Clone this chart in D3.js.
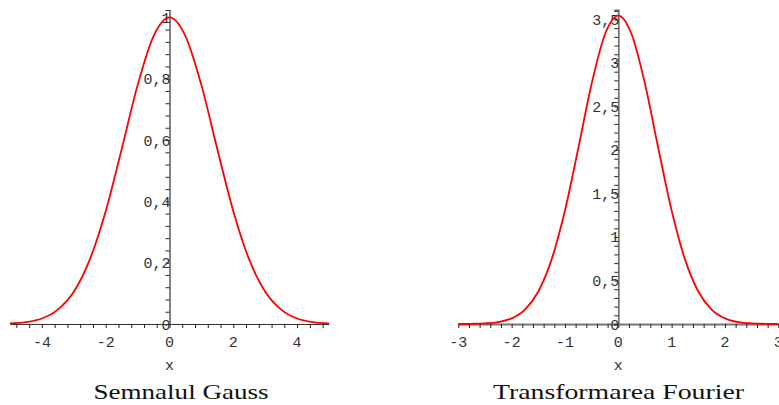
<!DOCTYPE html>
<html>
<head>
<meta charset="utf-8">
<script src="https://cdn.jsdelivr.net/npm/d3@7/dist/d3.min.js"></script>
<style>
  html, body { margin: 0; padding: 0; background: #fff; }
  svg { display: block; }
  .tick-label { font-family: "Liberation Mono", "DejaVu Sans Mono", monospace; font-size: 15px; fill: #333; }
  .title { font-family: "Liberation Serif", "DejaVu Serif", serif; font-size: 21px; fill: #111; }
</style>
</head>
<body>
<svg id="chart" width="779" height="405"></svg>
<script>
// Gaussian signal samples
const gaussX = [-5, -4.5, -4, -3.5, -3, -2.5, -2, -1.5, -1, -0.5, 0, 0.5, 1, 1.5, 2, 2.5, 3, 3.5, 4, 4.5, 5];
const gaussY = [0.002, 0.006, 0.018, 0.047, 0.105, 0.210, 0.368, 0.570, 0.779, 0.939, 1.000,
                0.939, 0.779, 0.570, 0.368, 0.210, 0.105, 0.047, 0.018, 0.006, 0.002];

// Fourier transform samples
const fourierX = [-3, -2.75, -2.5, -2.25, -2, -1.75, -1.5, -1.25, -1, -0.75, -0.5, -0.25, 0,
                  0.25, 0.5, 0.75, 1, 1.25, 1.5, 1.75, 2, 2.25, 2.5, 2.75, 3];
const fourierY = [0.000, 0.002, 0.007, 0.022, 0.065, 0.166, 0.374, 0.743, 1.304, 2.020, 2.761, 3.330, 3.545,
                  3.330, 2.761, 2.020, 1.304, 0.743, 0.374, 0.166, 0.065, 0.022, 0.007, 0.002, 0.000];

// Tick labels
const gaussXTicks = [-4, -2, 0, 2, 4];
const gaussXLabels = ["-4", "-2", "0", "2", "4"];
const gaussYTicks = [0, 0.2, 0.4, 0.6, 0.8, 1];
const gaussYLabels = ["0", "0,2", "0,4", "0,6", "0,8", "1"];
const fourierXTicks = [-3, -2, -1, 0, 1, 2, 3];
const fourierXLabels = ["-3", "-2", "-1", "0", "1", "2", "3"];
const fourierYTicks = [0, 0.5, 1, 1.5, 2, 2.5, 3, 3.5];
const fourierYLabels = ["0", "0,5", "1", "1,5", "2", "2,5", "3", "3,5"];

const titles = ["Semnalul Gauss", "Transformarea Fourier"];
const axisName = "x";

const svg = d3.select("#chart");
svg.append("rect").attr("width", 779).attr("height", 405).attr("fill", "#fff");

function panel(cfg) {
  const x = d3.scaleLinear().domain(cfg.xDomain).range(cfg.xRange);
  const y = d3.scaleLinear().domain(cfg.yDomain).range(cfg.yRange);
  const g = svg.append("g");

  // minor + major tick marks
  const xMinor = d3.range(Math.ceil(cfg.xDomain[0] / cfg.xStep), Math.floor(cfg.xDomain[1] / cfg.xStep) + 1)
    .map(i => +(i * cfg.xStep).toFixed(6));
  const yMinor = d3.range(0, Math.floor(cfg.yDomain[1] / cfg.yStep) + 1)
    .map(i => +(i * cfg.yStep).toFixed(6));

  const xAxis = g.append("g")
    .attr("transform", `translate(0,${y(0)})`)
    .call(d3.axisBottom(x).tickValues(xMinor).tickSize(4).tickSizeOuter(0).tickFormat(""));
  xAxis.select(".domain").attr("stroke", cfg.axisColor).attr("stroke-width", cfg.axisWidth);
  xAxis.selectAll(".tick line").attr("stroke", "#222");

  const yAxis = g.append("g")
    .attr("transform", `translate(${x(0)},0)`)
    .call(d3.axisLeft(y).tickValues(yMinor).tickSize(4).tickSizeOuter(4).tickFormat(""));
  yAxis.select(".domain").attr("stroke", cfg.axisColor).attr("stroke-width", cfg.axisWidth);
  yAxis.selectAll(".tick line").attr("stroke", "#222");

  // tick labels
  g.selectAll(".xl").data(cfg.xTicks).join("text")
    .attr("class", "tick-label")
    .attr("x", d => x(d)).attr("y", y(0) + 23)
    .attr("text-anchor", "middle")
    .text((d, i) => cfg.xLabels[i]);

  g.selectAll(".yl").data(cfg.yTicks).join("text")
    .attr("class", "tick-label")
    .attr("x", x(0) + 1).attr("y", d => y(d) + 5.5)
    .attr("text-anchor", "end")
    .text((d, i) => cfg.yLabels[i]);

  g.append("text").attr("class", "tick-label")
    .attr("x", x(0)).attr("y", 370).attr("text-anchor", "middle")
    .text(axisName);

  // curve
  const pts = cfg.xs.map((v, i) => [v, cfg.ys[i]]);
  g.append("path")
    .datum(pts)
    .attr("fill", "none")
    .attr("stroke", "#f00")
    .attr("stroke-width", 1.8)
    .attr("stroke-linejoin", "round")
    .attr("d", d3.line().x(d => x(d[0])).y(d => y(d[1])).curve(d3.curveMonotoneX));

  // title
  g.append("text").attr("class", "title")
    .attr("x", cfg.titleX).attr("y", 399)
    .attr("text-anchor", "middle")
    .attr("textLength", cfg.titleW).attr("lengthAdjust", "spacingAndGlyphs")
    .text(cfg.title);
}

panel({
  xs: gaussX, ys: gaussY,
  xDomain: [-5, 5], xRange: [10, 329],
  yDomain: [0, 1.024], yRange: [324, 10],
  xStep: 0.4, yStep: 0.04,
  xTicks: gaussXTicks, xLabels: gaussXLabels,
  yTicks: gaussYTicks, yLabels: gaussYLabels,
  axisColor: "#333", axisWidth: 1.2,
  title: titles[0], titleX: 181, titleW: 175
});

panel({
  xs: fourierX, ys: fourierY,
  xDomain: [-3, 3], xRange: [458.3, 778.3],
  yDomain: [0, 3.609], yRange: [324, 10],
  xStep: 0.2, yStep: 0.1,
  xTicks: fourierXTicks, xLabels: fourierXLabels,
  yTicks: fourierYTicks, yLabels: fourierYLabels,
  axisColor: "#777", axisWidth: 1.8,
  title: titles[1], titleX: 618.5, titleW: 251
});
</script>
</body>
</html>
